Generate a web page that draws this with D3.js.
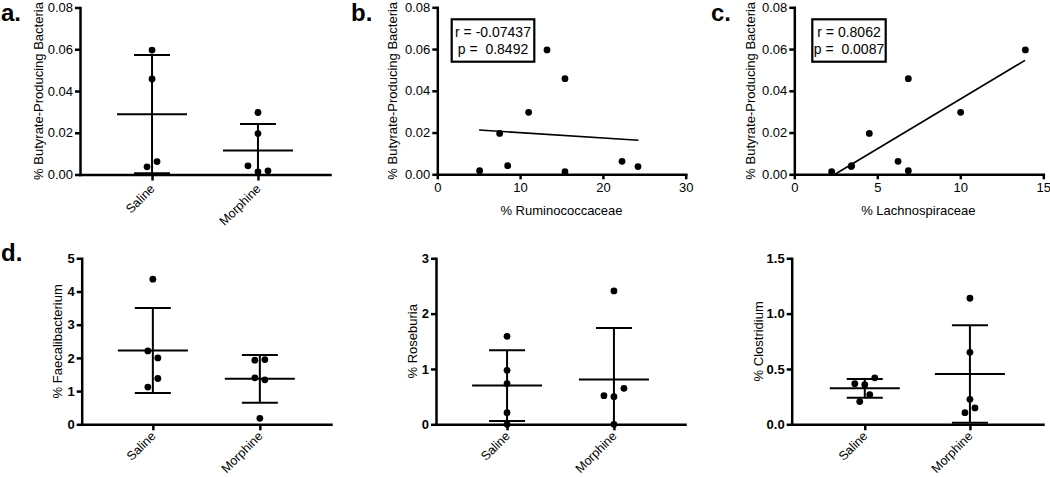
<!DOCTYPE html>
<html><head><meta charset="utf-8">
<script src="https://cdn.jsdelivr.net/npm/d3@7"></script>
<style>
body{margin:0;background:#fff;}
svg text{font-family:"Liberation Sans",Arial,Helvetica,sans-serif;fill:#000;}
</style></head><body>
<svg id="chart" width="1050" height="477"></svg>
<script>
// ---------- DATA ----------
const groups = ["Saline", "Morphine"];

// panel a: % Butyrate-Producing Bacteria
const aSaline = [0.0596, 0.0458, 0.0037, 0.0062];
const aSalineSlot = [0, 0, -1, 1];
const aMorphine = [0.0297, 0.0196, 0.00415, 0.00128, 0.00176];
const aMorphineSlot = [0, 0, -2, 0, 2];
const aMean = [0.0289, 0.0115];
const aSD = [0.0283, 0.0127];
const aTicks = [0, 0.02, 0.04, 0.06, 0.08];

// panel b: vs % Ruminococcaceae
const bX = [5.11, 7.53, 8.5, 11.03, 13.25, 15.42, 15.42, 22.31, 24.24];
const bY = [0.00176, 0.0196, 0.00415, 0.0297, 0.0596, 0.0458, 0.00128, 0.0062, 0.0037];
const bFitX = [5.05, 24.3];
const bFitY = [0.0212, 0.0163];
const bStats = ["r = -0.07437", "p =  0.8492"];
const bXTicks = [0, 10, 20, 30];

// panel c: vs % Lachnospiraceae
const cX = [2.25, 3.43, 3.45, 4.52, 6.25, 6.87, 6.87, 10.02, 13.92];
const cY = [0.00128, 0.0037, 0.00415, 0.0196, 0.0062, 0.0458, 0.00176, 0.0297, 0.0596];
const cFitX = [2.45, 13.9];
const cFitY = [0.0, 0.0546];
const cStats = ["r = 0.8062", "p =  0.0087"];
const cXTicks = [0, 5, 10, 15];

// panel d1: % Faecalibacterium
const d1Saline = [4.37, 2.21, 2.00, 1.38, 1.12];
const d1SalineSlot = [0, -1, 1, 1, -1];
const d1Morphine = [1.93, 1.95, 1.40, 1.34, 0.18];
const d1MorphineSlot = [-1, 1, -1, 1, 0];
const d1Mean = [2.22, 1.37];
const d1SD = [1.28, 0.72];
const d1Ticks = [0, 1, 2, 3, 4, 5];

// panel d2: % Roseburia
const d2Saline = [1.59, 0.976, 0.735, 0.21, 0.0];
const d2SalineSlot = [0, 0, 0, 0, 0];
const d2Morphine = [2.41, 0.518, 0.50, 0.65, 0.0];
const d2MorphineSlot = [0, -2, 0, 2, 0];
const d2Mean = [0.70, 0.81];
const d2SD = [0.64, 0.93];
const d2Ticks = [0, 1, 2, 3];

// panel d3: % Clostridium
const d3Saline = [0.367, 0.358, 0.42, 0.268, 0.205];
const d3SalineSlot = [-2, 0, 2, 1, -1];
const d3Morphine = [1.139, 0.65, 0.226, 0.148, 0.105];
const d3MorphineSlot = [0, 0, 0, 1, -1];
const d3Mean = [0.325, 0.455];
const d3SD = [0.085, 0.44];
const d3Ticks = [0, 0.5, 1.0, 1.5];

// ---------- DRAWING ----------
const svg = d3.select("#chart");
const AX_W = 2.5, R = 3.4, SLOT = 5;

function styleAxis(gg, bold) {
  gg.attr("font-family", null);
  gg.select(".domain").attr("stroke", "#000").attr("stroke-width", AX_W).attr("stroke-linecap", "square");
  gg.selectAll(".tick line").attr("stroke", "#000").attr("stroke-width", AX_W);
  gg.selectAll(".tick text").attr("font-size", 13).attr("font-weight", bold ? "bold" : "normal");
}

function yAxis(x0, y, ticks, fmt, bold) {
  const ax = d3.axisLeft(y).tickValues(ticks).tickFormat(fmt).tickSize(5).tickSizeOuter(0).tickPadding(2);
  const gg = svg.append("g").attr("transform", `translate(${x0},0)`).call(ax);
  styleAxis(gg, bold);
}

function yLabel(xc, yc, txt) {
  svg.append("text").attr("transform", `translate(${xc},${yc}) rotate(-90)`)
    .attr("text-anchor", "middle").attr("dy", "0.35em").attr("font-size", 13).text(txt);
}

function panelLabel(x, y, txt) {
  svg.append("text").attr("x", x).attr("y", y).attr("font-size", 24).attr("font-weight", "bold").text(txt);
}

function catPanel(o) {
  const y = d3.scaleLinear().domain([0, o.max]).range([o.yB, o.yT]);
  const x = d3.scalePoint().domain(groups).range([o.x0, o.x1]).padding(o.pad);
  yAxis(o.x0, y, o.ticks, o.fmt, o.bold);
  const ax = d3.axisBottom(x).tickSize(6).tickSizeOuter(0);
  const gx = svg.append("g").attr("transform", `translate(0,${o.yB})`).call(ax);
  styleAxis(gx, false);
  gx.selectAll(".tick text").attr("x", 0).attr("y", 0).attr("dy", 0).attr("font-size", 12.5)
    .attr("text-anchor", "end").attr("transform", `translate(3,${o.labOff}) rotate(-45)`);
  const g = svg.append("g");
  o.series.forEach((s, i) => {
    const cx = x(groups[i]);
    g.selectAll(null).data(s.vals).enter().append("circle")
      .attr("cx", (d, j) => cx + s.slots[j] * SLOT).attr("cy", d => y(d)).attr("r", R).attr("fill", "#000");
    const m = o.mean[i], sd = o.sd[i];
    const hi = m + sd, lo = m - sd;
    g.append("line").attr("x1", cx).attr("x2", cx).attr("y1", y(Math.max(lo, 0))).attr("y2", y(hi))
      .attr("stroke", "#000").attr("stroke-width", 2);
    g.append("line").attr("x1", cx - 35).attr("x2", cx + 35).attr("y1", y(m)).attr("y2", y(m))
      .attr("stroke", "#000").attr("stroke-width", 2);
    g.append("line").attr("x1", cx - 18).attr("x2", cx + 18).attr("y1", y(hi)).attr("y2", y(hi))
      .attr("stroke", "#000").attr("stroke-width", 2);
    if (lo >= 0) {
      g.append("line").attr("x1", cx - 18).attr("x2", cx + 18).attr("y1", y(lo)).attr("y2", y(lo))
        .attr("stroke", "#000").attr("stroke-width", 2);
    }
  });
  yLabel(o.ylx, (o.yT + o.yB) / 2, o.ylabel);
}

function scatPanel(o) {
  const y = d3.scaleLinear().domain([0, 0.08]).range([o.yB, o.yT]);
  const x = d3.scaleLinear().domain([0, o.xmax]).range([o.x0, o.x1]);
  yAxis(o.x0, y, aTicks, d3.format(".2f"), false);
  const ax = d3.axisBottom(x).tickValues(o.xticks).tickSize(5).tickSizeOuter(0).tickPadding(3);
  const gx = svg.append("g").attr("transform", `translate(0,${o.yB})`).call(ax);
  styleAxis(gx, false);
  svg.append("line").attr("x1", x(o.fitX[0])).attr("x2", x(o.fitX[1]))
    .attr("y1", y(o.fitY[0])).attr("y2", y(o.fitY[1])).attr("stroke", "#000").attr("stroke-width", 1.6);
  svg.append("g").selectAll("circle").data(o.xs).enter().append("circle")
    .attr("cx", d => x(d)).attr("cy", (d, i) => y(o.ys[i])).attr("r", R).attr("fill", "#000");
  svg.append("rect").attr("x", o.box[0]).attr("y", o.box[1]).attr("width", o.box[2]).attr("height", o.box[3])
    .attr("fill", "#fff").attr("stroke", "#000").attr("stroke-width", 2.2);
  o.stats.forEach((t, i) => {
    svg.append("text").attr("x", o.box[0] + o.box[2] / 2).attr("y", o.box[1] + 18 + i * 17)
      .attr("text-anchor", "middle").attr("font-size", 14).style("white-space", "pre").text(t);
  });
  yLabel(o.ylx, (o.yT + o.yB) / 2, "% Butyrate-Producing Bacteria");
  svg.append("text").attr("x", o.xlx).attr("y", 215).attr("text-anchor", "middle")
    .attr("font-size", 13).text(o.xlabel);
}

catPanel({x0: 80, x1: 330, yT: 7.5, yB: 174.5, max: 0.08, pad: 0.68, ticks: aTicks, fmt: d3.format(".2f"), bold: false,
  labOff: 15, series: [{vals: aSaline, slots: aSalineSlot}, {vals: aMorphine, slots: aMorphineSlot}],
  mean: aMean, sd: aSD, ylx: 38, ylabel: "% Butyrate-Producing Bacteria"});

scatPanel({x0: 437.3, x1: 685.7, yT: 7.3, yB: 174.3, xmax: 30, xticks: bXTicks, xs: bX, ys: bY,
  fitX: bFitX, fitY: bFitY, stats: bStats, box: [451.7, 19.3, 82.6, 42.4], ylx: 392, xlx: 561.5,
  xlabel: "% Ruminococcaceae"});

scatPanel({x0: 794.3, x1: 1043.3, yT: 7.3, yB: 174.3, xmax: 15, xticks: cXTicks, xs: cX, ys: cY,
  fitX: cFitX, fitY: cFitY, stats: cStats, box: [812.3, 19.3, 73.4, 42.4], ylx: 750, xlx: 918.3,
  xlabel: "% Lachnospiraceae"});

catPanel({x0: 81.7, x1: 331, yT: 258.3, yB: 424.3, max: 5, pad: 0.665, ticks: d1Ticks, fmt: d3.format("d"), bold: true,
  labOff: 12.5, series: [{vals: d1Saline, slots: d1SalineSlot}, {vals: d1Morphine, slots: d1MorphineSlot}],
  mean: d1Mean, sd: d1SD, ylx: 57, ylabel: "% Faecalibacterium"});

catPanel({x0: 436, x1: 685, yT: 258.3, yB: 424.3, max: 3, pad: 0.665, ticks: d2Ticks, fmt: d3.format("d"), bold: true,
  labOff: 12.5, series: [{vals: d2Saline, slots: d2SalineSlot}, {vals: d2Morphine, slots: d2MorphineSlot}],
  mean: d2Mean, sd: d2SD, ylx: 412, ylabel: "% Roseburia"});

catPanel({x0: 791.7, x1: 1043, yT: 258.3, yB: 424.3, max: 1.5, pad: 0.695, ticks: d3Ticks, fmt: d3.format(".1f"), bold: true,
  labOff: 12.5, series: [{vals: d3Saline, slots: d3SalineSlot}, {vals: d3Morphine, slots: d3MorphineSlot}],
  mean: d3Mean, sd: d3SD, ylx: 758.5, ylabel: "% Clostridium"});

panelLabel(1, 21, "a.");
panelLabel(351, 21, "b.");
panelLabel(711, 21, "c.");
panelLabel(1, 261, "d.");
</script>
</body></html>
